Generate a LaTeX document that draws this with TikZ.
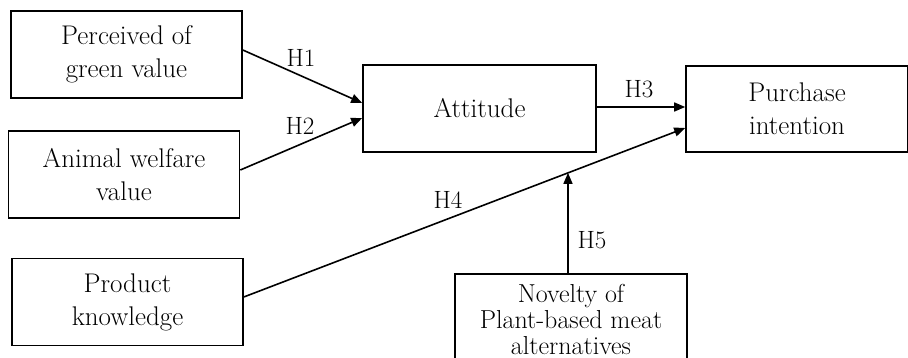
\documentclass[tikz,border=0pt]{standalone}
\usepackage{fontspec}
\usetikzlibrary{arrows.meta,intersections,calc}

\tikzset{
  construct/.style={draw=black, line width=1.6pt, rectangle, inner sep=0pt,
    minimum width=231pt, minimum height=87pt, align=center,
    font=\fontsize{27}{33}\selectfont},
  path/.style={draw=black, line width=1.6pt,
    -{Triangle[length=11pt,width=9pt]}},
  hyp/.style={font=\fontsize{25}{28}\selectfont, inner sep=0pt}
}

\begin{document}
\begin{tikzpicture}[x=1pt, y=-1pt]
  \useasboundingbox (0,0) rectangle (908,358);
  \clip (0,0) rectangle (908,358);

  % constructs
  \node[construct] (green) at (126.5,54.5) {Perceived of\\green value};
  \node[construct] (animal) at (124,174.5) {Animal welfare\\value};
  \node[construct] (know) at (127.5,302) {Product\\knowledge};
  \node[construct, minimum width=233pt] (att) at (479.5,108.5) {Attitude};
  \node[construct, minimum width=222pt, minimum height=86pt] (pi) at (797,109) {Purchase\\intention};
  \node[construct, minimum width=232pt, minimum height=90pt,
        font=\fontsize{26}{26}\selectfont] (nov) at (571,319)
        {Novelty of\\Plant-based meat\\alternatives};

  % hypothesised paths
  \draw[path] ([yshift=4.5pt]green.east) -- ([yshift=5.5pt]att.west);
  \draw[path] ([yshift=4.5pt]animal.east) -- ([yshift=-9.5pt]att.west);
  \draw[path] ([yshift=1.5pt]att.east) -- ([yshift=1.5pt]att.east -| pi.west);
  \draw[path, name path=hfour] ([yshift=5pt]know.east) -- ([yshift=-19pt]pi.west);
  \path[name path=vfive] ([xshift=-3pt]nov.north) -- ++(0,-200);
  \draw[path, name intersections={of=hfour and vfive, by=mod}]
    ([xshift=-3pt]nov.north) -- (mod);

  % hypothesis labels
  \node[hyp] (h1) at (301,58) {H1};
  \node[hyp] (h2) at (300,126) {H2};
  \node[hyp] (h3) at (639,89) {H3};
  \node[hyp] (h4) at (448,200) {H4};
  \node[hyp] (h5) at (592,240) {H5};
\end{tikzpicture}
\end{document}
